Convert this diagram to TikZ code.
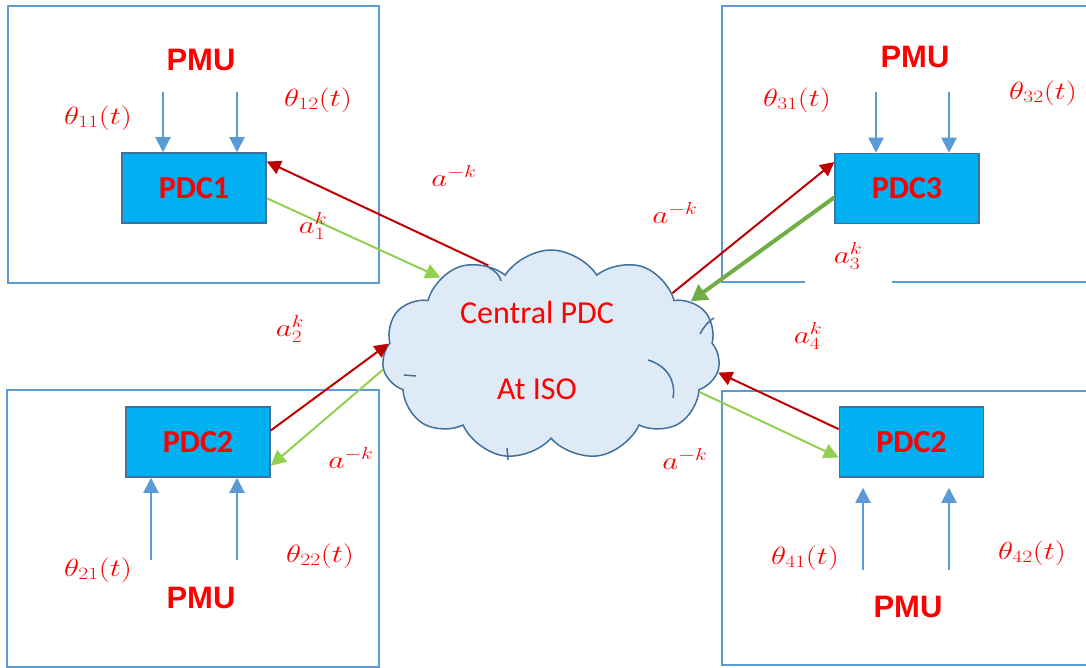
\documentclass[tikz,border=0pt]{standalone}
\usepackage{fontspec}
\setmainfont{Carlito}
\newfontfamily\pmufont{Liberation Sans}
\usetikzlibrary{shapes.symbols,arrows.meta}
\definecolor{regionblue}{HTML}{5B9BD5}
\definecolor{pdcfill}{HTML}{00B0F0}
\definecolor{pdcedge}{HTML}{41719C}
\definecolor{cloudfill}{HTML}{DEEBF7}
\definecolor{upred}{HTML}{C00000}
\definecolor{downgreen}{HTML}{92D050}
\definecolor{darkgreen}{HTML}{70AD47}
\definecolor{feedblue}{HTML}{5B9BD5}
% wide math, set like a Cambria-style formula
\newcommand{\widemath}[1]{\scalebox{1.25}[1]{$#1$}}
\begin{document}
\begin{tikzpicture}[x=1pt,y=-1pt,
  region/.style={draw=regionblue, line width=2pt},
  pdc/.style={draw=pdcedge, fill=pdcfill, line width=1.5pt, minimum width=144pt,
    minimum height=70pt, inner sep=0pt, text=red, font=\bfseries\fontsize{32}{36}\selectfont},
  pmu/.style={text=red, font=\pmufont\bfseries\fontsize{31}{34}\selectfont},
  mlabel/.style={text=red, font=\fontsize{27}{32}\selectfont},
  isotext/.style={text=red, font=\fontsize{32}{36}\selectfont},
  feed/.style={draw=feedblue, line width=2pt, -{Triangle[width=15pt,length=15pt]}},
  uplink/.style={draw=upred, line width=2pt, -{Triangle[width=14pt,length=14pt]}},
  downlink/.style={draw=downgreen, line width=2pt, -{Triangle[width=15pt,length=15pt]}},
  thicklink/.style={draw=darkgreen, line width=4pt, -{Triangle[width=18pt,length=16pt]}},
  puff/.style={draw=pdcedge, line width=1.5pt}]
\useasboundingbox (0,0) rectangle (1086,668);

% ---- regions ----
\draw[region] (8,6) rectangle (379,283);
\draw[region] (7,390) rectangle (379,667);
\draw[region] (805,282) -- (722,282) -- (722,6) -- (1092,6);
\draw[region] (892,282) -- (1092,282);
\draw[region] (1092,391) -- (722,391) -- (722,665) -- (1092,665);

% ---- central cloud ----
\node[cloud, cloud puffs=11, cloud puff arc=115, aspect=1.6, draw=pdcedge,
  fill=cloudfill, line width=1.5pt, minimum width=338pt, minimum height=210pt,
  inner sep=0pt] (iso) at (551,355) {};
\draw[puff] (648,360) .. controls (668,366) and (676,382) .. (673,398);
\draw[puff] (700,334) .. controls (704,326) and (710,320) .. (714,318);
\draw[puff] (404,375) -- (416,376);
\draw[puff] (489,268) .. controls (496,271) and (500,276) .. (501,281);
\draw[puff] (507,448) -- (508,460);
\node[isotext] (isoa) at (537,313) {Central PDC};
\node[isotext] (isob) at (537,389) {At ISO};

% ---- PDC boxes ----
\node[pdc] (pdc1) at (194,188) {PDC1};
\node[pdc] (pdc3) at (907,188.5) {PDC3};
\node[pdc] (pdc2) at (198,442) {PDC2};
\node[pdc] (pdc4) at (911.5,442) {PDC2};

% ---- PMU labels ----
\node[pmu] (pmu1) at (201,60) {PMU};
\node[pmu] (pmu3) at (915,57) {PMU};
\node[pmu] (pmu2) at (201,598) {PMU};
\node[pmu] (pmu4) at (908,607) {PMU};

% ---- phase-angle labels ----
\node[mlabel] (t11) at (98,118) {\widemath{\theta_{11}(t)}};
\node[mlabel] (t12) at (318,100) {\widemath{\theta_{12}(t)}};
\node[mlabel] (t31) at (797,100) {\widemath{\theta_{31}(t)}};
\node[mlabel] (t32) at (1043,93) {\widemath{\theta_{32}(t)}};
\node[mlabel] (t21) at (98,570) {\widemath{\theta_{21}(t)}};
\node[mlabel] (t22) at (320,556) {\widemath{\theta_{22}(t)}};
\node[mlabel] (t41) at (805,558) {\widemath{\theta_{41}(t)}};
\node[mlabel] (t42) at (1032,553) {\widemath{\theta_{42}(t)}};

% ---- PMU feeds ----
\coordinate (f11) at (163,92);
\coordinate (f12) at (237,92);
\coordinate (f31) at (876,92);
\coordinate (f32) at (949,92);
\coordinate (f21) at (151,560);
\coordinate (f22) at (237,560);
\coordinate (f41) at (863,570);
\coordinate (f42) at (949,570);
\draw[feed] (f11) -- (f11 |- pdc1.north);
\draw[feed] (f12) -- (f12 |- pdc1.north);
\draw[feed] (f31) -- (f31 |- pdc3.north);
\draw[feed] (f32) -- (f32 |- pdc3.north);
\draw[feed] (f21) -- (f21 |- pdc2.south);
\draw[feed] (f22) -- (f22 |- pdc2.south);
\draw[feed] (f41) -- ([yshift=-10pt]f41 |- pdc4.south);
\draw[feed] (f42) -- ([yshift=-10pt]f42 |- pdc4.south);

% ---- links to the central PDC ----
\draw[uplink] (iso.125) -- (pdc1.20);
\draw[downlink] (pdc1.-8) -- (iso.145);
\draw[uplink] (iso.27) -- (pdc3.160);
\draw[thicklink] (pdc3.-173) -- (iso.21);
\draw[uplink] (pdc2.9) -- (iso.176);
\draw[downlink] (iso.185) -- (pdc2.-18);
\draw[uplink] (pdc4.170) -- (iso.-6);
\draw[downlink] (iso.-14) -- (pdc4.-168);

% ---- link labels ----
\node[mlabel] (l1) at (454,176) {\widemath{a^{-k}}};
\node[mlabel] (l2) at (313,226) {\widemath{a_1^k}};
\node[mlabel] (l3) at (675,213) {\widemath{a^{-k}}};
\node[mlabel] (l4) at (848,256) {\widemath{a_3^k}};
\node[mlabel] (l5) at (290,329) {\widemath{a_2^k}};
\node[mlabel] (l6) at (351,458) {\widemath{a^{-k}}};
\node[mlabel] (l7) at (808,336) {\widemath{a_4^k}};
\node[mlabel] (l8) at (685,459) {\widemath{a^{-k}}};
\end{tikzpicture}
\end{document}
